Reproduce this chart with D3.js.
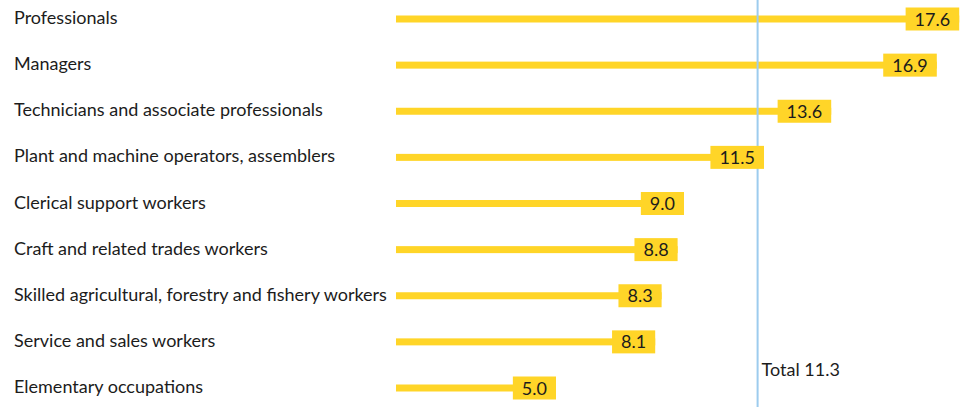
<!DOCTYPE html>
<html>
<head>
<meta charset="utf-8">
<script src="https://cdn.jsdelivr.net/npm/d3@7/dist/d3.min.js"></script>
<style>
  html, body { margin: 0; padding: 0; background: #fff; }
  svg { display: block; }
  text { font-family: Lato, "Open Sans", sans-serif; fill: #1c1c1c; }
</style>
</head>
<body>
<script>
// Occupational groups and their values
const categories = [
  "Professionals",
  "Managers",
  "Technicians and associate professionals",
  "Plant and machine operators, assemblers",
  "Clerical support workers",
  "Craft and related trades workers",
  "Skilled agricultural, forestry and fishery workers",
  "Service and sales workers",
  "Elementary occupations"
];
const values = [17.6, 16.9, 13.6, 11.5, 9.0, 8.8, 8.3, 8.1, 5.0];
const totalLabel = "Total";
const totalValue = 11.3;

const width = 967, height = 407;
const fmt = d3.format(".1f");

const svg = d3.select("body").append("svg")
  .attr("width", width)
  .attr("height", height);

const x = d3.scaleLinear().domain([0, 18]).range([396, 972]);
const y = d3.scalePoint().domain(categories).range([19, 388]);

const rows = categories.map((c, i) => ({ category: c, value: values[i] }));

// Category labels on the left
svg.append("g").selectAll("text")
  .data(rows)
  .join("text")
  .attr("x", 14)
  .attr("y", d => y(d.category) + 5)
  .attr("font-size", 18)
  .text(d => d.category);

// Thin bars
svg.append("g").selectAll("rect")
  .data(rows)
  .join("rect")
  .attr("x", x(0))
  .attr("y", d => y(d.category) - 3.5)
  .attr("width", d => x(d.value) - x(0))
  .attr("height", 7)
  .attr("fill", "#ffd528");

// Overall reference line (over the bars, under the value tags)
svg.append("line")
  .attr("x1", x(totalValue))
  .attr("x2", x(totalValue))
  .attr("y1", 0)
  .attr("y2", height)
  .attr("stroke", "#9dccee")
  .attr("stroke-width", 2);

svg.append("text")
  .attr("x", x(totalValue) + 4)
  .attr("y", 376)
  .attr("font-size", 18)
  .text(`${totalLabel} ${totalValue}`);

// Value tags at the end of each bar
const tags = svg.append("g").selectAll("g")
  .data(rows)
  .join("g");

tags.append("text")
  .attr("text-anchor", "middle")
  .attr("font-size", 18)
  .attr("y", d => y(d.category) + 6.5)
  .text(d => fmt(d.value))
  .each(function (d) {
    const w = this.getComputedTextLength() + 18;
    d.boxW = w;
    d3.select(this).attr("x", x(d.value) - w / 2);
  });

tags.insert("rect", "text")
  .attr("x", d => x(d.value) - d.boxW)
  .attr("y", d => y(d.category) - 11.5)
  .attr("width", d => d.boxW)
  .attr("height", 23)
  .attr("fill", "#ffd528");
</script>
</body>
</html>
